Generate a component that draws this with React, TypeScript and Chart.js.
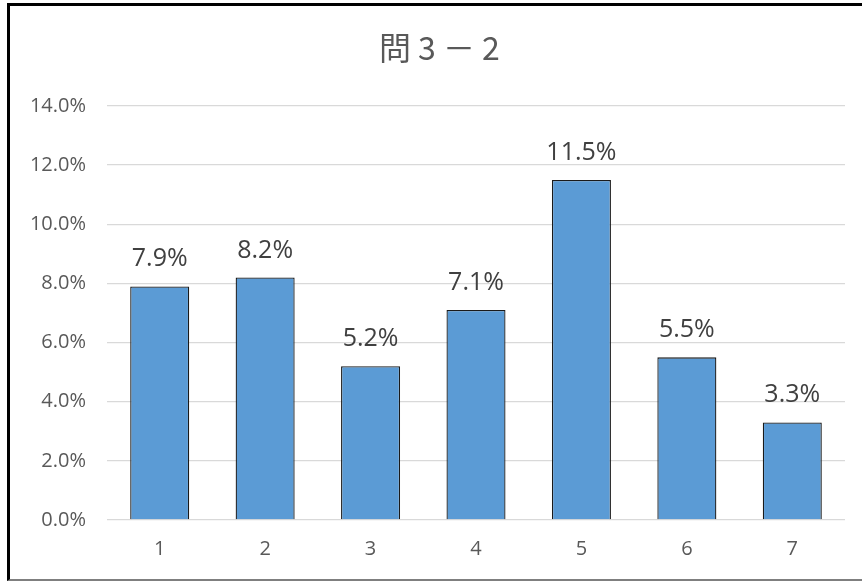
import React, { useEffect, useRef } from "react";
import { Chart, registerables } from "chart.js";

Chart.register(...registerables);

const TITLE = "問3－2";
const categories = ["1", "2", "3", "4", "5", "6", "7"];
const values = [7.9, 8.2, 5.2, 7.1, 11.5, 5.5, 3.3];
const yMin = 0;
const yMax = 14;
const yStep = 2;

const FONT = "'Open Sans', 'Liberation Sans', sans-serif";

const dataLabelPlugin = {
  id: "dataLabels",
  afterDatasetsDraw(chart: any) {
    const ctx = chart.ctx;
    const meta = chart.getDatasetMeta(0);
    ctx.save();
    ctx.font = `25px ${FONT}`;
    ctx.fillStyle = "#404040";
    ctx.textAlign = "center";
    ctx.textBaseline = "alphabetic";
    meta.data.forEach((bar: any, i: number) => {
      ctx.fillText(values[i].toFixed(1) + "%", bar.x, bar.y - 20);
    });
    ctx.restore();
  },
};

// Title drawn with fixed full-width cells (as in the source chart)
const titlePlugin = {
  id: "cellTitle",
  afterDraw(chart: any) {
    const ctx = chart.ctx;
    const chars = Array.from(TITLE);
    const cell = 32;
    const cx = 443;
    const start = cx - (chars.length * cell) / 2;
    ctx.save();
    ctx.font = `32px 'Noto Sans CJK JP', sans-serif`;
    ctx.fillStyle = "#595959";
    ctx.textAlign = "center";
    ctx.textBaseline = "middle";
    chars.forEach((c, i) => {
      ctx.fillText(c, start + cell * i + cell / 2, 48);
    });
    ctx.restore();
  },
};

export default function App() {
  const ref = useRef<HTMLCanvasElement>(null);
  useEffect(() => {
    if (!ref.current) return;
    const chart = new Chart(ref.current, {
      type: "bar",
      data: {
        labels: categories,
        datasets: [
          {
            data: values,
            backgroundColor: "#5B9BD5",
            borderColor: "#1a1a1a",
            borderWidth: 1.3,
            categoryPercentage: 1,
            barPercentage: 0.56,
          },
        ],
      },
      options: {
        animation: false,
        responsive: false,
        maintainAspectRatio: false,
        layout: { padding: { left: 0, right: 17, top: 106, bottom: 0 } },
        plugins: {
          legend: { display: false },
          tooltip: { enabled: false },
          title: { display: false },
        },
        scales: {
          x: {
            grid: { display: false, drawTicks: false },
            border: { display: false },
            ticks: { color: "#595959", font: { family: FONT, size: 20 }, padding: 17 },
            afterFit: (s: any) => {
              s.height = 61;
            },
          },
          y: {
            min: yMin,
            max: yMax,
            grid: { color: "#d9d9d9", lineWidth: 1.3, drawTicks: false },
            border: { display: false },
            ticks: {
              stepSize: yStep,
              color: "#595959",
              font: { family: FONT, size: 20 },
              padding: 21,
              callback: (v: any) => Number(v).toFixed(1) + "%",
            },
            afterFit: (s: any) => {
              s.width = 107;
            },
          },
        },
      },
      plugins: [dataLabelPlugin, titlePlugin],
    });
    return () => chart.destroy();
  }, []);

  return (
    <div style={{ position: "fixed", left: 0, top: 0, width: 862, height: 581, background: "#fff", overflow: "hidden" }}>
      <canvas ref={ref} width={862} height={581} style={{ position: "absolute", left: 0, top: 0, width: 862, height: 581 }} />
      <div
        style={{
          position: "absolute",
          left: 7,
          top: 3,
          width: 870,
          height: 573,
          borderLeft: "3px solid #000",
          borderTop: "3px solid #000",
          borderBottom: "2px solid #7f7f7f",
          pointerEvents: "none",
        }}
      />
    </div>
  );
}
